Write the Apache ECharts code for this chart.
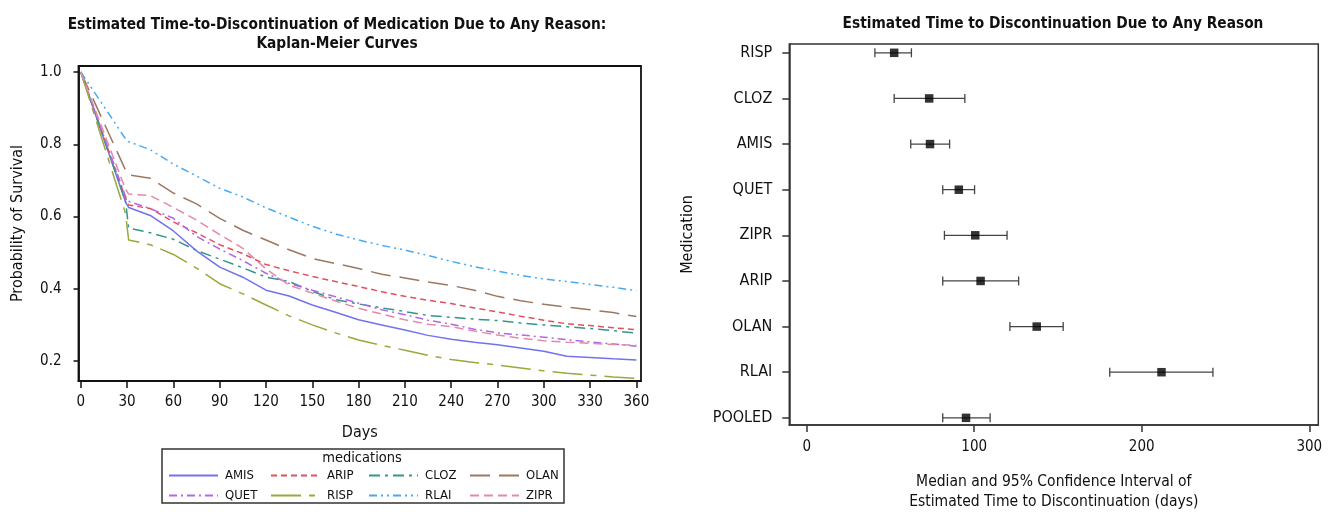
<!DOCTYPE html>
<html><head><meta charset="utf-8">
<script src="https://cdn.jsdelivr.net/npm/echarts@6/dist/echarts.min.js"></script>
<style>html,body{margin:0;padding:0;background:#fff}#c{width:1331px;height:517px}</style>
</head><body><div id="c"></div>
<script>
// ---- Kaplan-Meier data (days, survival probability) ----
const days = [0, 29, 31, 45, 60, 75, 90, 105, 120, 135, 150, 165, 180, 195, 210, 225, 240, 255, 270, 285, 300, 315, 330, 345, 360];
const AMIS = [1.0, 0.64, 0.625, 0.603, 0.56, 0.505, 0.46, 0.432, 0.396, 0.38, 0.355, 0.335, 0.314, 0.300, 0.286, 0.271, 0.260, 0.252, 0.245, 0.236, 0.227, 0.213, 0.210, 0.206, 0.203];
const ARIP = [1.0, 0.65, 0.632, 0.622, 0.585, 0.555, 0.522, 0.497, 0.467, 0.45, 0.434, 0.42, 0.406, 0.392, 0.379, 0.368, 0.359, 0.347, 0.336, 0.324, 0.313, 0.303, 0.298, 0.292, 0.287];
const CLOZ = [1.0, 0.642, 0.568, 0.555, 0.537, 0.506, 0.482, 0.458, 0.432, 0.42, 0.393, 0.37, 0.358, 0.347, 0.337, 0.326, 0.321, 0.316, 0.312, 0.305, 0.300, 0.295, 0.290, 0.284, 0.277];
const OLAN = [1.0, 0.728, 0.715, 0.706, 0.665, 0.635, 0.595, 0.562, 0.535, 0.508, 0.484, 0.47, 0.456, 0.44, 0.43, 0.419, 0.409, 0.396, 0.379, 0.367, 0.357, 0.349, 0.342, 0.334, 0.323];
const QUET = [1.0, 0.655, 0.642, 0.622, 0.595, 0.545, 0.51, 0.478, 0.443, 0.415, 0.396, 0.378, 0.36, 0.342, 0.328, 0.313, 0.302, 0.288, 0.278, 0.272, 0.266, 0.259, 0.253, 0.247, 0.241];
const RISP = [1.0, 0.608, 0.535, 0.522, 0.495, 0.457, 0.414, 0.386, 0.355, 0.325, 0.3, 0.278, 0.258, 0.243, 0.23, 0.216, 0.204, 0.196, 0.189, 0.181, 0.173, 0.166, 0.161, 0.156, 0.152];
const RLAI = [1.0, 0.815, 0.807, 0.785, 0.745, 0.712, 0.678, 0.654, 0.624, 0.598, 0.573, 0.552, 0.535, 0.52, 0.507, 0.492, 0.476, 0.461, 0.449, 0.437, 0.427, 0.42, 0.412, 0.404, 0.395];
const ZIPR = [1.0, 0.675, 0.662, 0.658, 0.625, 0.59, 0.55, 0.512, 0.455, 0.41, 0.388, 0.366, 0.346, 0.33, 0.314, 0.302, 0.295, 0.283, 0.272, 0.263, 0.256, 0.252, 0.249, 0.246, 0.244];
const medNames = ['AMIS', 'ARIP', 'CLOZ', 'OLAN', 'QUET', 'RISP', 'RLAI', 'ZIPR'];
const medValues = [AMIS, ARIP, CLOZ, OLAN, QUET, RISP, RLAI, ZIPR];
const kmDayTicks = [0, 30, 60, 90, 120, 150, 180, 210, 240, 270, 300, 330, 360];
const kmProbTicks = [0.2, 0.4, 0.6, 0.8, 1.0];

// ---- Median time to discontinuation with 95% CI ----
const ciCategories = ['RISP', 'CLOZ', 'AMIS', 'QUET', 'ZIPR', 'ARIP', 'OLAN', 'RLAI', 'POOLED'];
const ciMedian = [52.2, 73.1, 73.6, 90.8, 100.6, 103.8, 137.3, 211.8, 95.1];
const ciLower = [40.7, 52.2, 62.1, 81.2, 82.2, 81.2, 121.3, 180.9, 81.2];
const ciUpper = [62.5, 94.4, 85.3, 100.2, 119.6, 126.5, 153.1, 242.5, 109.5];
const ciTicks = [0, 100, 200, 300];

// ---- styles ----
const FONT = '"DejaVu Sans Condensed", "Liberation Sans Narrow", sans-serif';
const styles = {
  AMIS: {color: '#7272ee', type: 'solid'},
  ARIP: {color: '#e0505e', type: [6, 4]},
  CLOZ: {color: '#35958a', type: [11, 5, 3, 5]},
  OLAN: {color: '#9c7862', type: [20, 9]},
  QUET: {color: '#b266ea', type: [8, 4, 2, 4]},
  RISP: {color: '#9aa83c', type: [30, 8, 6, 8]},
  RLAI: {color: '#48aaf2', type: [8, 4, 2, 4, 2, 4]},
  ZIPR: {color: '#e48aa8', type: [9, 5]}
};

const kmSeries = medNames.map((n, k) => ({
  name: n, type: 'line', xAxisIndex: 0, yAxisIndex: 0,
  symbol: 'none', smooth: false, z: 3,
  data: days.map((d, i) => [d, medValues[k][i]]),
  lineStyle: {width: 1.5, color: styles[n].color, type: styles[n].type},
  itemStyle: {color: styles[n].color},
  emphasis: {disabled: true}
}));

const colLeft = [168, 270, 368, 469];
const rowCenter = [476, 496];
const legends = medNames.map((n, k) => ({
  data: [n],
  left: colLeft[k % 4],
  top: rowCenter[Math.floor(k / 4)] - 7,
  itemWidth: 49, itemHeight: 14, padding: 0,
  selectedMode: false,
  itemStyle: {opacity: 0, color: 'rgba(0,0,0,0)', borderWidth: 0},
  textStyle: {fontFamily: FONT, fontSize: 13, color: '#111', padding: [0, 0, 0, 2]}
}));

const chart = echarts.init(document.getElementById('c'), null, {renderer: 'canvas'});
chart.setOption({
  animation: false,
  backgroundColor: '#fff',
  textStyle: {fontFamily: FONT},
  title: [
    {text: 'Estimated Time-to-Discontinuation of Medication Due to Any Reason:\nKaplan-Meier Curves',
     left: 332, top: 11, textAlign: 'center',
     textStyle: {fontFamily: FONT, fontSize: 15.3, fontWeight: 'bold', color: '#111', lineHeight: 19}},
    {text: 'Estimated Time to Discontinuation Due to Any Reason',
     left: 1048, top: 12, textAlign: 'center',
     textStyle: {fontFamily: FONT, fontSize: 15.3, fontWeight: 'bold', color: '#111'}}
  ],
  legend: legends,
  graphic: [
    {type: 'rect', shape: {x: 162, y: 449, width: 402, height: 54}, style: {fill: 'none', stroke: '#333', lineWidth: 1.5}, z: 10},
    {type: 'text', x: 362, y: 458, style: {text: 'medications', fontFamily: FONT, fontSize: 14.5, fill: '#111', align: 'center', verticalAlign: 'middle'}, z: 10}
  ],
  grid: [
    {left: 78.5, right: 690, top: 66, bottom: 136, show: true, borderColor: '#111', borderWidth: 1.8, backgroundColor: 'transparent'},
    {left: 789.3, right: 12.7, top: 44, bottom: 83.7, show: true, borderColor: '#333', borderWidth: 1.5, backgroundColor: 'transparent'}
  ],
  xAxis: [
    {type: 'value', gridIndex: 0, min: -1.5, max: 363,
     name: 'Days', nameLocation: 'middle', nameGap: 44,
     nameTextStyle: {fontFamily: FONT, fontSize: 16, color: '#111'},
     axisLine: {show: true, onZero: false, lineStyle: {color: '#111', width: 1.8}},
     axisTick: {show: true, length: 7, customValues: kmDayTicks, lineStyle: {color: '#111', width: 1.5}},
     axisLabel: {customValues: kmDayTicks, margin: 14, fontFamily: FONT, fontSize: 15, color: '#111'},
     splitLine: {show: false}},
    {type: 'value', gridIndex: 1, min: -10.4, max: 305.4,
     name: 'Median and 95% Confidence Interval of\nEstimated Time to Discontinuation (days)',
     nameLocation: 'middle', nameGap: 47,
     nameTextStyle: {fontFamily: FONT, fontSize: 15.5, color: '#111', lineHeight: 20, verticalAlign: 'top'},
     axisLine: {show: true, onZero: false, lineStyle: {color: '#333', width: 1.5}},
     axisTick: {show: true, length: 7, customValues: ciTicks, lineStyle: {color: '#333', width: 1.5}},
     axisLabel: {customValues: ciTicks, margin: 15, fontFamily: FONT, fontSize: 15, color: '#111'},
     splitLine: {show: false}}
  ],
  yAxis: [
    {type: 'value', gridIndex: 0, min: 0.1447, max: 1.0166,
     name: 'Probability of Survival', nameLocation: 'middle', nameGap: 53,
     nameTextStyle: {fontFamily: FONT, fontSize: 16, color: '#111'},
     axisLine: {show: true, onZero: false, lineStyle: {color: '#111', width: 1.8}},
     axisTick: {show: true, length: 5, customValues: kmProbTicks, lineStyle: {color: '#111', width: 1.5}},
     axisLabel: {customValues: kmProbTicks, margin: 17, fontFamily: FONT, fontSize: 15, color: '#111',
                 formatter: v => v.toFixed(1)},
     splitLine: {show: false}},
    {type: 'value', gridIndex: 1, inverse: true, min: -0.193, max: 8.157,
     name: 'Medication', nameLocation: 'middle', nameGap: 93,
     nameTextStyle: {fontFamily: FONT, fontSize: 16, color: '#111'},
     axisLine: {show: true, onZero: false, lineStyle: {color: '#333', width: 1.5}},
     axisTick: {show: true, length: 7, customValues: ciCategories.map((c, i) => i), lineStyle: {color: '#333', width: 1.5}},
     axisLabel: {customValues: ciCategories.map((c, i) => i), margin: 17, fontFamily: FONT, fontSize: 16, color: '#111',
                 formatter: v => ciCategories[Math.round(v)]},
     splitLine: {show: false}}
  ],
  series: kmSeries.concat([
    {type: 'custom', xAxisIndex: 1, yAxisIndex: 1, z: 3,
     data: ciCategories.map((c, i) => [i, ciLower[i], ciUpper[i]]),
     encode: {x: [1, 2], y: 0},
     renderItem: (params, api) => {
       const i = api.value(0);
       const lo = api.coord([api.value(1), i]);
       const hi = api.coord([api.value(2), i]);
       const h = 4.5;
       const st = {stroke: '#444', lineWidth: 1.3};
       return {type: 'group', children: [
         {type: 'line', shape: {x1: lo[0], y1: lo[1], x2: hi[0], y2: hi[1]}, style: st},
         {type: 'line', shape: {x1: lo[0], y1: lo[1] - h, x2: lo[0], y2: lo[1] + h}, style: st},
         {type: 'line', shape: {x1: hi[0], y1: hi[1] - h, x2: hi[0], y2: hi[1] + h}, style: st}
       ]};
     }},
    {type: 'scatter', xAxisIndex: 1, yAxisIndex: 1, z: 4,
     symbol: 'rect', symbolSize: 8.5,
     itemStyle: {color: '#000'},
     data: ciCategories.map((c, i) => [ciMedian[i], i])}
  ])
});
</script>
</body></html>
